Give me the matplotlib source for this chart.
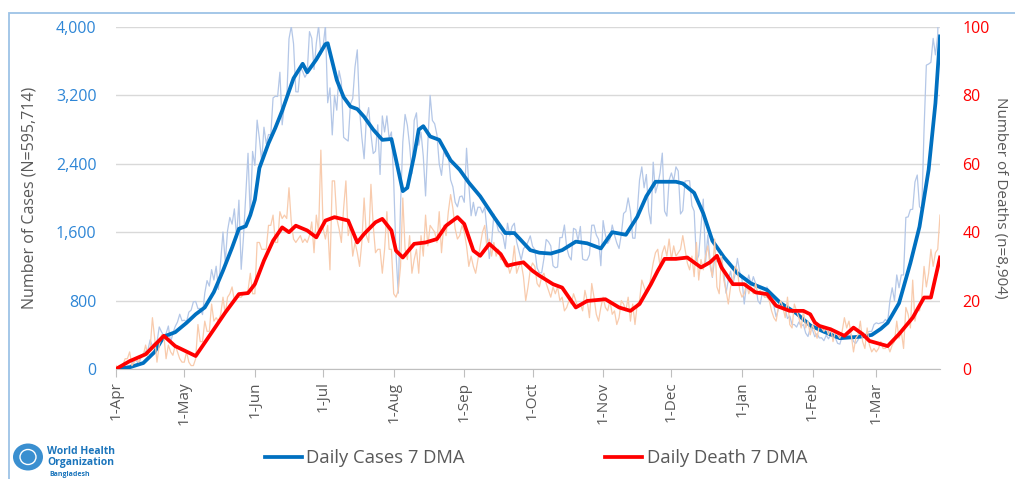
import numpy as np
import matplotlib
matplotlib.use("Agg")
import matplotlib.pyplot as plt
from matplotlib.patches import Rectangle, Ellipse
from matplotlib.lines import Line2D
from matplotlib.ticker import FuncFormatter

plt.rcParams['font.family'] = ['Open Sans', 'DejaVu Sans']

# ---------------- data (day 0 = 1-Apr-2020, last day = 29-Mar-2021) ----------------
month_ticks = [0, 30, 61, 91, 122, 153, 183, 214, 244, 275, 306, 334]
month_labels = ['1-Apr', '1-May', '1-Jun', '1-Jul', '1-Aug', '1-Sep', '1-Oct',
                '1-Nov', '1-Dec', '1-Jan', '1-Feb', '1-Mar']

cases_daily = [
    2, 2, 5, 9, 18, 35, 41, 54, 112, 94, 58, 139, 182, 209, 219, 341, 266, 306, 312, 492,
    434, 390, 414, 503, 309, 418, 497, 549, 641, 564,
    571, 552, 665, 688, 786, 790, 706, 709, 636, 887, 1034, 969, 1162, 1041, 1202, 930,
    1273, 1602, 1251, 1617, 1773, 1694, 1873, 1532, 1975, 1166, 1541, 2029, 2523, 1764, 2545,
    2381, 2911, 2695, 2423, 2828, 2635, 2743, 2735, 3171, 3190, 3187, 3471, 2856, 3099, 3141,
    3862, 4008, 3803, 3243, 3240, 3531, 3480, 3412, 3462, 3946, 3868, 3504, 3809, 4014, 3682,
    3775, 4019, 3114, 3288, 2738, 3201, 3027, 3489, 3360, 2709, 2686, 2666, 3099, 3163, 3533,
    3733, 3034, 2709, 2459, 2928, 3057, 2744, 2520, 2548, 2856, 2275, 2960, 2772, 2960, 2695, 2772,
    2199, 1356, 887, 1918, 2654, 2977, 2851, 2611, 2285, 2907, 2996, 2617, 2768, 2487, 2024,
    2644, 3200, 2907, 2868, 2738, 2401, 2265, 2545, 2485, 2519, 2211, 2131, 1950, 1897, 2014, 2024,
    1950, 2582, 2158, 1792, 1950, 1792, 1892, 1892, 1827, 1892, 1615, 1292, 1476, 1812, 1724,
    1615, 1593, 1557, 1407, 1705, 1557, 1666, 1705, 1488, 1383, 1275, 1407, 1436, 1488, 1557,
    1436, 1396, 1182, 1125, 1125, 1293, 1515, 1488, 1440, 1207, 1184, 1193, 1537, 1537, 1684,
    1420, 1320, 1275, 1645, 1630, 1498, 1667, 1286, 1273, 1275, 1336, 1681, 1683, 1568, 1517, 1208,
    1736, 1568, 1469, 1517, 1684, 1568, 1474, 1409, 1578, 1819, 1845, 2001, 1845, 1531, 1529,
    1837, 2212, 2364, 2120, 2275, 1847, 1698, 2419, 2060, 2156, 2292, 2525, 1847, 1788, 2212,
    2293, 2198, 2364, 2316, 1813, 1853, 2198, 2202, 2202, 1911, 1846, 1264, 1328, 1666, 1987,
    1250, 1568, 1258, 1071, 1292, 1254, 1259, 1306, 1137, 887, 1041, 1145, 987, 1111, 1294, 1136,
    1050, 760, 990, 1100, 980, 1080, 1000, 800, 760, 900, 840, 960, 830, 780, 740, 610, 700,
    790, 750, 700, 590, 620, 520, 520, 490, 550, 500, 520, 420, 380, 480,
    457, 377, 414, 363, 365, 331, 395, 353, 402, 388, 367, 300, 291, 382, 384, 399, 388, 402,
    322, 299, 341, 420, 400, 390, 430, 440, 440, 520,
    540, 530, 540, 545, 580, 550, 800, 950, 800, 1100, 950, 1100, 1100, 1773, 1779, 1865, 1868,
    2187, 2269, 1899, 1868, 2809, 3554, 3567, 3587, 3867, 3674, 3908, 5181,
]

deaths_daily = [
    1, 0, 1, 1, 3, 3, 5, 1, 2, 3, 2, 4, 4, 7, 4, 6, 15, 9, 2, 7, 10, 10, 3, 7, 5, 4, 7, 5, 3, 2,
    2, 5, 2, 1, 1, 3, 13, 8, 8, 14, 11, 11, 19, 14, 15, 14, 16, 21, 16, 21, 22, 24, 20, 21, 21,
    21, 22, 22, 23, 28, 22,
    22, 37, 37, 35, 35, 35, 42, 42, 45, 37, 37, 46, 44, 45, 44, 53, 43, 38, 37, 38, 39, 37, 38,
    37, 39, 43, 34, 45, 40, 64,
    41, 38, 42, 29, 55, 55, 44, 41, 37, 47, 55, 39, 42, 33, 37, 34, 30, 37, 50, 39, 37, 54, 42,
    34, 35, 35, 28, 35, 46, 35, 35,
    22, 21, 23, 30, 50, 35, 32, 39, 28, 32, 35, 28, 39, 33, 45, 36, 42, 41, 40, 37, 46, 34, 42,
    39, 46, 51, 47, 41, 38, 39, 42,
    40, 36, 30, 33, 30, 28, 32, 36, 40, 42, 35, 38, 33, 37, 33, 35, 32, 32, 30, 31, 28, 30, 36,
    28, 30, 31, 27, 20, 24, 29,
    31, 30, 25, 24, 27, 28, 25, 23, 21, 24, 22, 24, 20, 21, 17, 18, 20, 19, 22, 20, 18, 19, 17,
    23, 20, 15, 25, 21, 16, 14, 18,
    21, 18, 17, 20, 16, 17, 13, 15, 20, 19, 17, 21, 14, 19, 13, 19, 20, 26, 24, 22, 23, 27, 31,
    34, 35, 30, 34, 36, 33, 38,
    32, 36, 33, 34, 35, 39, 35, 31, 29, 33, 27, 37, 26, 32, 29, 33, 36, 30, 27, 38, 24, 22, 33,
    26, 23, 19, 24, 26, 30, 29, 23,
    21, 22, 25, 22, 24, 22, 25, 22, 23, 22, 21, 21, 20, 17, 15, 14, 18, 20, 18, 15, 21, 13, 12,
    19, 17, 15, 12, 17, 12, 14, 10,
    13, 11, 9, 13, 12, 11, 12, 10, 12, 8, 11, 10, 9, 11, 15, 12, 14, 10, 5, 9, 10, 14, 8, 6, 12,
    7, 5, 6,
    5, 6, 8, 6, 6, 7, 5, 7, 8, 14, 9, 11, 6, 18, 16, 12, 26, 14, 18, 17, 21, 30, 24, 28, 35, 30,
    34, 35, 45,
]

cases_ma_day = [0, 6, 12, 17, 21, 26, 31, 35, 39, 43, 47, 51, 54, 57, 59, 61, 63, 67, 70, 73,
                78, 82, 84, 88, 92, 93, 97, 100, 103, 106, 109, 113, 117, 121, 123, 126, 128,
                131, 133, 135, 138, 142, 147, 151, 155, 160, 166, 171, 175, 182, 186, 191, 196,
                202, 207, 213, 218, 224, 229, 233, 237, 242, 246, 249, 254, 258, 262, 267, 273,
                279, 286, 292, 299, 305, 311, 318, 327, 332, 336, 339, 344, 349, 353, 357, 360, 362]
cases_ma = [0, 20, 70, 200, 380, 430, 540, 640, 720, 900, 1150, 1420, 1640, 1670, 1800, 1980,
            2350, 2640, 2820, 3020, 3400, 3570, 3470, 3620, 3800, 3810, 3380, 3180, 3070, 3040,
            2950, 2800, 2680, 2690, 2450, 2080, 2120, 2500, 2800, 2840, 2720, 2680, 2440, 2330,
            2180, 2020, 1780, 1590, 1590, 1390, 1360, 1350, 1390, 1490, 1470, 1410, 1600, 1570,
            1780, 2020, 2190, 2190, 2190, 2170, 2060, 1820, 1500, 1310, 1120, 1000, 925, 770,
            650, 510, 436, 360, 378, 398, 470, 540, 770, 1240, 1665, 2330, 3110, 3890]

deaths_ma_day = [0, 6, 13, 21, 26, 35, 43, 48, 54, 58, 61, 65, 69, 73, 76, 79, 84, 88, 92, 96,
                 102, 106, 109, 114, 117, 121, 123, 126, 131, 136, 141, 145, 150, 153, 157, 160,
                 164, 169, 172, 175, 179, 183, 186, 192, 196, 202, 207, 215, 221, 226, 230, 235,
                 238, 241, 246, 251, 257, 261, 264, 266, 271, 276, 281, 286, 290, 296, 302, 305,
                 307, 309, 314, 320, 324, 328, 331, 339, 344, 350, 355, 358, 362]
deaths_ma = [0, 2.3, 4.3, 9.7, 6.7, 3.8, 11.6, 16.5, 21.9, 22.2, 24.8, 31.7, 37.5, 41.4, 40.0,
             41.9, 40.5, 38.5, 43.4, 44.4, 43.4, 37.0, 39.5, 42.9, 43.9, 40.5, 34.6, 32.6, 36.6,
             37.0, 38.0, 41.9, 44.4, 42.4, 34.6, 33.1, 36.6, 33.6, 30.2, 30.7, 31.2, 28.7, 27.3,
             24.8, 23.8, 18.0, 19.9, 20.4, 18.0, 17.0, 19.0, 24.8, 28.7, 32.2, 32.2, 32.6, 29.7,
             31.2, 33.1, 29.7, 24.8, 24.8, 22.4, 21.9, 18.5, 17.0, 17.0, 16.0, 13.6, 12.6, 11.6,
             9.7, 12.1, 10.2, 8.2, 6.7, 10.2, 15.0, 20.9, 20.9, 32.6]

cases_ticks = [0, 800, 1600, 2400, 3200, 4000]
deaths_ticks = [0, 20, 40, 60, 80, 100]

# ---------------- figure ----------------
W, H = 1015, 479
fig = plt.figure(figsize=(W / 100, H / 100), dpi=100)
fig.patches.append(Rectangle((9 / W, -0.1), 2.0, 1 - 13 / H + 0.1, transform=fig.transFigure,
                             fill=False, edgecolor='#9DC3E6', lw=1.3))

ax = fig.add_axes([116 / W, 1 - 369 / H, (940 - 116) / W, (369 - 27) / H])
days = np.arange(len(cases_daily))

ax.plot(days, cases_daily, color='#B4C7E7', lw=0.9, zorder=2)
ax.plot(cases_ma_day, cases_ma, color='#0070C0', lw=2.7, zorder=3, solid_joinstyle='round')
ax.set_xlim(0, days[-1])
ax.set_ylim(0, 4000)
ax.set_yticks(cases_ticks)
ax.yaxis.set_major_formatter(FuncFormatter(lambda v, p: f"{int(v):,}"))
ax.grid(axis='y', color='#D9D9D9', lw=1.0)
ax.set_axisbelow(True)
ax.set_xticks(month_ticks)
ax.set_xticklabels(month_labels, rotation=90, color='#595959', fontsize=11)
ax.tick_params(axis='x', length=6, color='#BFBFBF', pad=3)
ax.tick_params(axis='y', length=0, pad=14, labelcolor='#2E86D6', labelsize=11.5)
for s in ['top', 'right', 'left']:
    ax.spines[s].set_visible(False)
ax.spines['bottom'].set_color('#BFBFBF')

ax2 = ax.twinx()
ax2.plot(days, deaths_daily, color='#F8CBAD', lw=0.9, zorder=2)
ax2.plot(deaths_ma_day, deaths_ma, color='#FF0000', lw=2.7, zorder=3, solid_joinstyle='round')
ax2.set_ylim(0, 100)
ax2.set_yticks(deaths_ticks)
ax2.tick_params(axis='y', length=0, pad=16, labelcolor='#FF0000', labelsize=11.5)
for s in ['top', 'right', 'left', 'bottom']:
    ax2.spines[s].set_visible(False)

ycen = 1 - 198 / H
fig.text(30 / W, ycen, 'Number of Cases (N=595,714)', color='#595959', fontsize=11.5,
         rotation=90, ha='center', va='center')
fig.text(1001 / W, ycen, 'Number of Deaths (n=8,904)', color='#595959', fontsize=11,
         rotation=270, ha='center', va='center')

handles = [Line2D([], [], color='#0070C0', lw=2.7), Line2D([], [], color='#FF0000', lw=2.7)]
fig.legend(handles, ['Daily Cases 7 DMA', 'Daily Death 7 DMA'], loc='center',
           bbox_to_anchor=(536 / W, 1 - 458 / H), ncol=2, frameon=False, fontsize=13.3,
           handlelength=2.0, handletextpad=0.25, columnspacing=7.6, labelcolor='#595959')

# WHO emblem + text
fig.patches.append(Ellipse((28 / W, 1 - 457 / H), 30 / W, 27 / H, transform=fig.transFigure,
                           facecolor='#3A8FD0', edgecolor='none'))
fig.patches.append(Ellipse((28 / W, 1 - 457 / H), 16 / W, 15 / H, transform=fig.transFigure,
                           facecolor='none', edgecolor='white', lw=1.0))
fig.text(47 / W, 1 - 451 / H, 'World Health', color='#1B75BC', fontsize=7.5,
         fontweight='bold', va='center', ha='left')
fig.text(47 / W, 1 - 462 / H, 'Organization', color='#1B75BC', fontsize=7.5,
         fontweight='bold', va='center', ha='left')
fig.text(49 / W, 1 - 474 / H, 'Bangladesh', color='#1B75BC', fontsize=5,
         fontweight='bold', va='center', ha='left')

fig.savefig('out.png', dpi=100)
